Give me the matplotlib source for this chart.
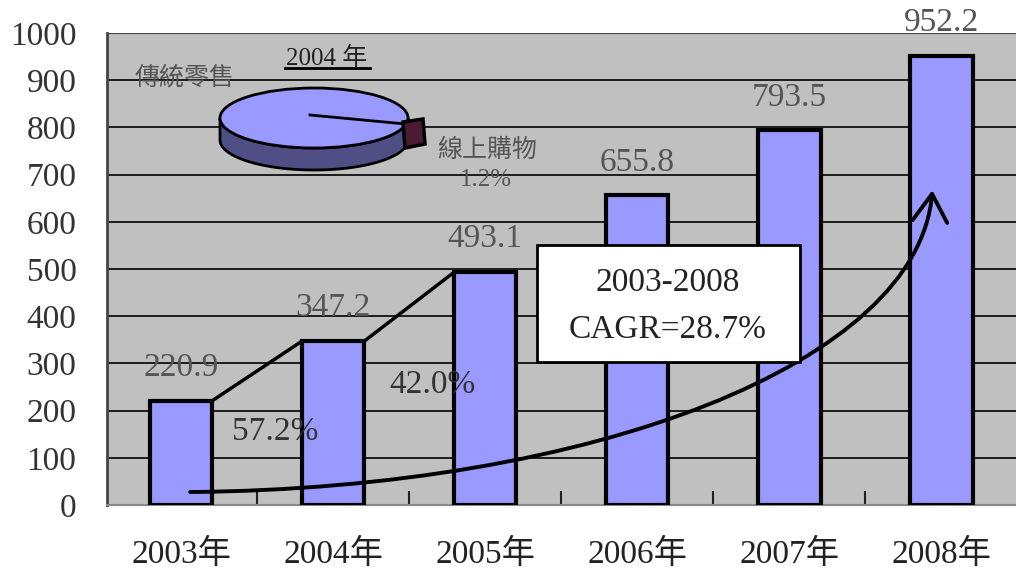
import matplotlib
matplotlib.use('Agg')
import matplotlib.pyplot as plt
import numpy as np
from matplotlib.patches import Rectangle, Polygon, Ellipse, FancyArrowPatch
from matplotlib.path import Path

plt.rcParams['font.family'] = ['Liberation Serif', 'Noto Sans CJK TC', 'DejaVu Sans']

years = ['2003年', '2004年', '2005年', '2006年', '2007年', '2008年']
values = [220.9, 347.2, 493.1, 655.8, 793.5, 952.2]
growth = ['57.2%', '42.0%']
online_share = 1.2   # % of 2004 market
cagr_label = ['2003-2008', 'CAGR=28.7%']
yticks = list(range(0, 1001, 100))

W, H = 1016, 579
fig = plt.figure(figsize=(W / 100, H / 100), dpi=100)
ax = fig.add_axes([107 / W, (H - 505) / H, (W - 107) / W, (505 - 33) / H])
ax.set_facecolor('#c0c0c0')

x = np.arange(len(years))
bw = 0.41
ax.bar(x, values, width=bw, color='#9999ff', edgecolor='black', linewidth=3, zorder=3)

ax.set_xlim(-0.487, 5.49)
ax.set_ylim(0, 1000)
ax.set_yticks(yticks)
ax.set_yticklabels([str(v) for v in yticks], fontsize=24, color='#333333')
ax.yaxis.grid(True, color='black', linewidth=1.2, zorder=1)
ax.set_axisbelow(True)
ax.tick_params(axis='y', length=0, pad=22)

# x ticks at category boundaries, labels at centres
ax.set_xticks(x[:-1] + 0.5)
ax.set_xticklabels([])
ax.tick_params(axis='x', direction='in', length=10, width=1.5, color='#222222')
for i, lab in enumerate(years):
    ax.text(i, -105, lab, ha='center', va='center', fontsize=24, color='#222222',
            transform=ax.transData, clip_on=False)

for s in ['top', 'right']:
    ax.spines[s].set_visible(False)
ax.spines['left'].set_linewidth(2)
ax.spines['left'].set_color('#444444')
ax.spines['bottom'].set_color('#888888')
ax.spines['bottom'].set_linewidth(1.5)
ax.axhline(1000, color='#444444', lw=1.5, zorder=2)

# value labels
for i, v in enumerate(values):
    ax.text(i, v + 38, f'{v:.1f}', ha='center', va='bottom', fontsize=24, color='#555555', zorder=5)

# connector lines between first three bars
h = bw / 2
lx = [0 + h, 1 - h, 1 + h, 2 - h, 2 + h]
ly = [values[0], values[1], values[1], values[2], values[2]]
ax.plot(lx, ly, color='black', lw=2.5, zorder=4, solid_capstyle='butt')
ax.text(0.62, 155, growth[0], ha='center', va='center', fontsize=24, color='#333333', zorder=5)
ax.text(1.65, 255, growth[1], ha='center', va='center', fontsize=24, color='#333333', zorder=5)

# growth curve arrow
verts = [(0.06, 27.5), (2.7, 35), (4.85, 300), (4.94, 667)]
curve = Path(verts, [Path.MOVETO, Path.CURVE4, Path.CURVE4, Path.CURVE4])
arr = FancyArrowPatch(path=curve, arrowstyle='->,head_length=0.8,head_width=0.5',
                      mutation_scale=25, lw=2.8, color='black', zorder=6)
ax.add_patch(arr)

# overlay in pixel coordinates for the inset pie and CAGR box
ov = fig.add_axes([0, 0, 1, 1], zorder=10)
ov.set_xlim(0, W)
ov.set_ylim(H, 0)
ov.axis('off')
ov.patch.set_alpha(0)

# CAGR box
ov.add_patch(Rectangle((537, 245), 263, 117, facecolor='white', edgecolor='black', lw=2))
ov.text(668, 283, cagr_label[0], ha='center', va='center', fontsize=24, color='#222222')
ov.text(668, 330, cagr_label[1], ha='center', va='center', fontsize=24, color='#222222')

# 3D pie (2004)
cx, cy, rx, ry, dep = 314, 118, 94, 30, 22
t = np.linspace(0, np.pi, 80)
a1 = 0.12
# main pie side
side = [(cx + rx * np.cos(tt), cy + ry * np.sin(tt)) for tt in t] + \
       [(cx + rx * np.cos(tt), cy + ry * np.sin(tt) + dep) for tt in t[::-1]]
ov.add_patch(Polygon(side, closed=True, facecolor='#4f4f85', edgecolor='black', lw=2))
ov.add_patch(Ellipse((cx, cy), 2 * rx, 2 * ry, facecolor='#9999ff', edgecolor='black', lw=2))
ov.plot([cx - 4, cx + rx * np.cos(a1) - 6], [cy - 3, cy + ry * np.sin(a1) + 2], color='black', lw=2)
# exploded online slice (drawn in front, enlarged so it is visible)
k = online_share / 1.2
blk = [(403, 122), (403 + 20 * k, 119), (405 + 20 * k, 144), (405, 148)]
ov.add_patch(Polygon(blk, closed=True, facecolor='#4d1a33', edgecolor='black', lw=2.5))

ov.text(327, 58, '2004 年', ha='center', va='center', fontsize=18, color='#222222')
ov.plot([285, 370], [68, 68], color='black', lw=2)
ov.text(185, 78, '傳統零售', ha='center', va='center', fontsize=18, color='#555555')
ov.text(487, 150, '線上購物', ha='center', va='center', fontsize=18, color='#555555')
ov.text(486, 180, '1.2%', ha='center', va='center', fontsize=18, color='#555555')

fig.savefig('out.png', dpi=100)
